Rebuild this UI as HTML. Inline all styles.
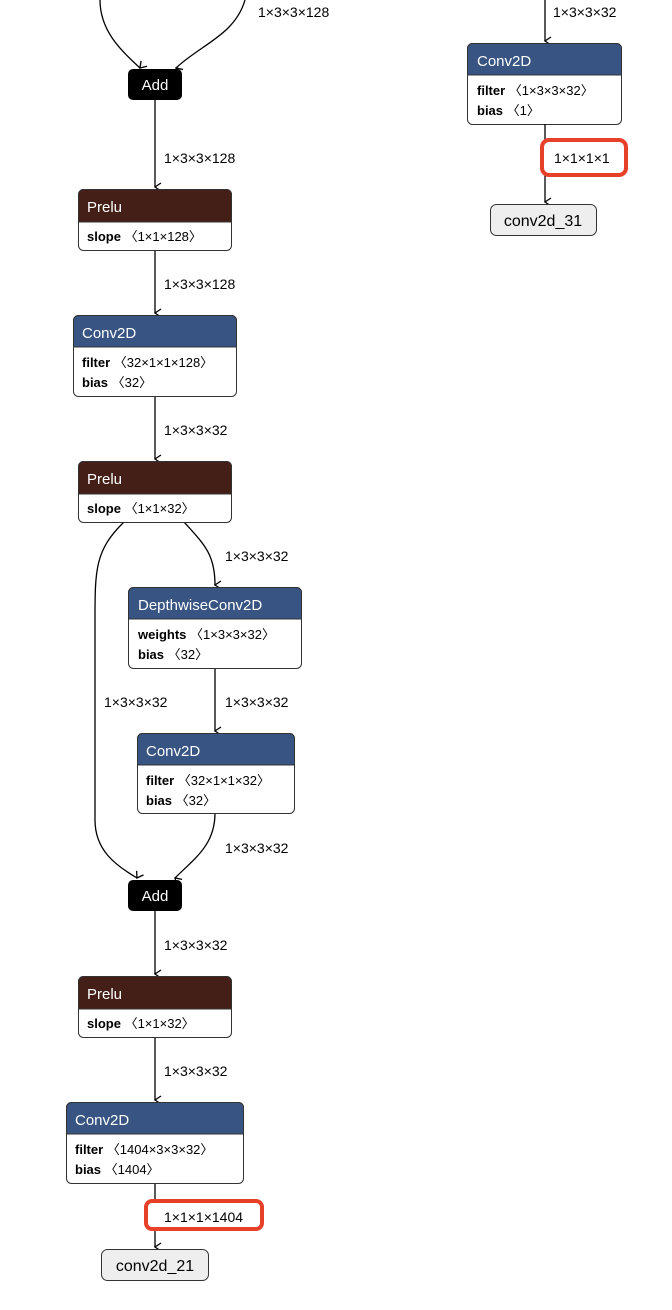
<!DOCTYPE html>
<html><head><meta charset="utf-8"><style>
html,body{margin:0;padding:0;background:#fff;width:672px;height:1310px;overflow:hidden}
svg{display:block;font-family:"Liberation Sans","DejaVu Sans",sans-serif}
.t{font-size:15px;fill:#fff}
.p{font-size:13px;fill:#000}
.l{font-size:14px;fill:#000}
.e{fill:none;stroke:#000;stroke-width:1.3}
</style></head><body>
<svg width="672" height="1310" viewBox="0 0 672 1310" xmlns="http://www.w3.org/2000/svg">
<defs><marker id="a" markerWidth="10" markerHeight="10" refX="5" refY="8" orient="auto" markerUnits="userSpaceOnUse"><path d="M1,2 L5,8 L9,2" fill="none" stroke="#000" stroke-width="1.3"/></marker></defs>

<!-- edges left -->
<path class="e" d="M100,0 C100,30 120,50 140,68" marker-end="url(#a)"/>
<path class="e" d="M245,0 C235,35 200,45 176,68" marker-end="url(#a)"/>
<text class="l" x="258" y="17">1×3×3×128</text>
<path class="e" d="M155,100 V187" marker-end="url(#a)"/>
<text class="l" x="164" y="163">1×3×3×128</text>
<path class="e" d="M155,250 V313" marker-end="url(#a)"/>
<text class="l" x="164" y="289">1×3×3×128</text>
<path class="e" d="M155,396 V459" marker-end="url(#a)"/>
<text class="l" x="164" y="435">1×3×3×32</text>
<path class="e" d="M124,522 C95,550 95,570 95,620 V820 C95,850 115,865 137,878" marker-end="url(#a)"/>
<text class="l" x="104" y="707">1×3×3×32</text>
<path class="e" d="M184,522 C205,545 215,555 215,585" marker-end="url(#a)"/>
<text class="l" x="225" y="561">1×3×3×32</text>
<path class="e" d="M215,668 V731" marker-end="url(#a)"/>
<text class="l" x="225" y="707">1×3×3×32</text>
<path class="e" d="M215,813 C215,845 195,858 175,878" marker-end="url(#a)"/>
<text class="l" x="225" y="853">1×3×3×32</text>
<path class="e" d="M155,911 V974" marker-end="url(#a)"/>
<text class="l" x="164" y="950">1×3×3×32</text>
<path class="e" d="M155,1037 V1100" marker-end="url(#a)"/>
<text class="l" x="164" y="1076">1×3×3×32</text>
<path class="e" d="M155,1183 V1247" marker-end="url(#a)"/>
<rect x="146" y="1201" width="116" height="28" rx="6" fill="#fff" stroke="#e8412a" stroke-width="4"/>
<text class="l" x="164" y="1222">1×1×1×1404</text>

<!-- Add 1 -->
<rect x="128" y="69" width="54" height="31" rx="5" fill="#000"/>
<text class="t" x="155" y="90" text-anchor="middle">Add</text>
<!-- Prelu 1 -->
<rect x="78.5" y="189.5" width="153" height="61" rx="5" fill="#fff" stroke="#333"/>
<path d="M78.5,222 V194.5 a5,5 0 0 1 5,-5 H226.5 a5,5 0 0 1 5,5 V222 Z" fill="#441f18" stroke="#333"/>
<text class="t" x="87" y="212">Prelu</text>
<text class="p" x="87" y="241"><tspan font-weight="bold">slope</tspan> 〈1×1×128〉</text>
<!-- Conv 1 -->
<rect x="73.5" y="315.5" width="163" height="81" rx="5" fill="#fff" stroke="#333"/>
<path d="M73.5,347 V320.5 a5,5 0 0 1 5,-5 H231.5 a5,5 0 0 1 5,5 V347 Z" fill="#385482" stroke="#333"/>
<text class="t" x="82" y="338">Conv2D</text>
<text class="p" x="82" y="367"><tspan font-weight="bold">filter</tspan> 〈32×1×1×128〉</text>
<text class="p" x="82" y="387"><tspan font-weight="bold">bias</tspan> 〈32〉</text>
<!-- Prelu 2 -->
<rect x="78.5" y="461.5" width="153" height="61" rx="5" fill="#fff" stroke="#333"/>
<path d="M78.5,494 V466.5 a5,5 0 0 1 5,-5 H226.5 a5,5 0 0 1 5,5 V494 Z" fill="#441f18" stroke="#333"/>
<text class="t" x="87" y="484">Prelu</text>
<text class="p" x="87" y="513"><tspan font-weight="bold">slope</tspan> 〈1×1×32〉</text>
<!-- Depthwise -->
<rect x="128.5" y="587.5" width="173" height="81" rx="5" fill="#fff" stroke="#333"/>
<path d="M128.5,619 V592.5 a5,5 0 0 1 5,-5 H296.5 a5,5 0 0 1 5,5 V619 Z" fill="#385482" stroke="#333"/>
<text class="t" x="138" y="610">DepthwiseConv2D</text>
<text class="p" x="138" y="639"><tspan font-weight="bold">weights</tspan> 〈1×3×3×32〉</text>
<text class="p" x="138" y="659"><tspan font-weight="bold">bias</tspan> 〈32〉</text>
<!-- Conv 2 -->
<rect x="137.5" y="733.5" width="157" height="80" rx="5" fill="#fff" stroke="#333"/>
<path d="M137.5,765 V738.5 a5,5 0 0 1 5,-5 H289.5 a5,5 0 0 1 5,5 V765 Z" fill="#385482" stroke="#333"/>
<text class="t" x="146" y="756">Conv2D</text>
<text class="p" x="146" y="785"><tspan font-weight="bold">filter</tspan> 〈32×1×1×32〉</text>
<text class="p" x="146" y="805"><tspan font-weight="bold">bias</tspan> 〈32〉</text>
<!-- Add 2 -->
<rect x="128" y="880" width="54" height="31" rx="5" fill="#000"/>
<text class="t" x="155" y="901" text-anchor="middle">Add</text>
<!-- Prelu 3 -->
<rect x="78.5" y="976.5" width="153" height="61" rx="5" fill="#fff" stroke="#333"/>
<path d="M78.5,1009 V981.5 a5,5 0 0 1 5,-5 H226.5 a5,5 0 0 1 5,5 V1009 Z" fill="#441f18" stroke="#333"/>
<text class="t" x="87" y="999">Prelu</text>
<text class="p" x="87" y="1028"><tspan font-weight="bold">slope</tspan> 〈1×1×32〉</text>
<!-- Conv 3 -->
<rect x="66.5" y="1102.5" width="177" height="81" rx="5" fill="#fff" stroke="#333"/>
<path d="M66.5,1134 V1107.5 a5,5 0 0 1 5,-5 H238.5 a5,5 0 0 1 5,5 V1134 Z" fill="#385482" stroke="#333"/>
<text class="t" x="75" y="1125">Conv2D</text>
<text class="p" x="75" y="1154"><tspan font-weight="bold">filter</tspan> 〈1404×3×3×32〉</text>
<text class="p" x="75" y="1174"><tspan font-weight="bold">bias</tspan> 〈1404〉</text>
<!-- output 1 -->
<rect x="101.5" y="1249.5" width="107" height="31" rx="6" fill="#eee" stroke="#333"/>
<text x="155" y="1271" text-anchor="middle" font-size="16" fill="#000">conv2d_21</text>

<!-- right column -->
<path class="e" d="M545,0 V41" marker-end="url(#a)"/>
<text class="l" x="553" y="17">1×3×3×32</text>
<rect x="467.5" y="43.5" width="154" height="81" rx="5" fill="#fff" stroke="#333"/>
<path d="M467.5,75 V48.5 a5,5 0 0 1 5,-5 H616.5 a5,5 0 0 1 5,5 V75 Z" fill="#385482" stroke="#333"/>
<text class="t" x="477" y="66">Conv2D</text>
<text class="p" x="477" y="95"><tspan font-weight="bold">filter</tspan> 〈1×3×3×32〉</text>
<text class="p" x="477" y="115"><tspan font-weight="bold">bias</tspan> 〈1〉</text>
<path class="e" d="M545,124 V202" marker-end="url(#a)"/>
<rect x="542" y="140" width="84" height="35" rx="7" fill="#fff" stroke="#e8412a" stroke-width="4"/>
<text class="l" x="554" y="163">1×1×1×1</text>
<rect x="490.5" y="204.5" width="106" height="31" rx="6" fill="#eee" stroke="#333"/>
<text x="543" y="226" text-anchor="middle" font-size="16" fill="#000">conv2d_31</text>
</svg>
</body></html>
